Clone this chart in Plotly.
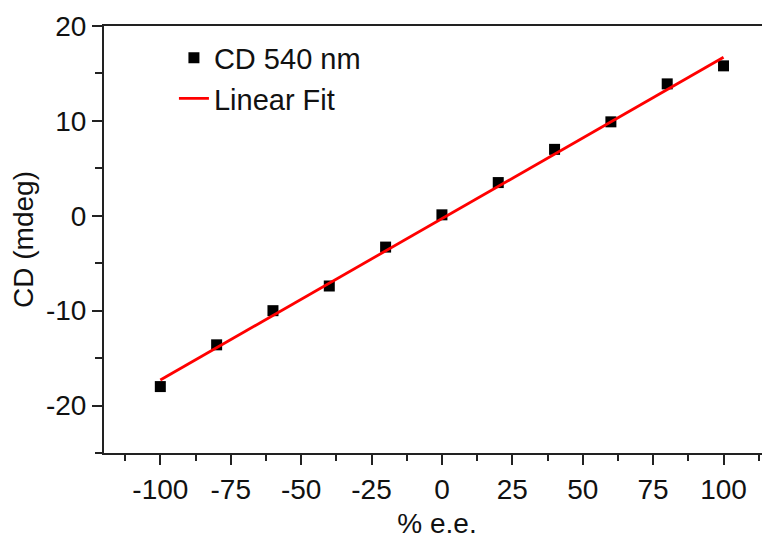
import plotly.graph_objects as go

# Data
ee_percent = [-100, -80, -60, -40, -20, 0, 20, 40, 60, 80, 100]
cd_540 = [-18.0, -13.6, -10.0, -7.4, -3.3, 0.1, 3.5, 7.0, 9.9, 13.9, 15.8]
fit_x = [-100, 100]
fit_y = [-17.3, 16.7]

x_ticks = [-100, -75, -50, -25, 0, 25, 50, 75, 100]
x_tick_labels = ["-100", "-75", "-50", "-25", "0", "25", "50", "75", "100"]
y_ticks = [-20, -10, 0, 10, 20]
y_tick_labels = ["-20", "-10", "0", "10", "20"]

FONT = "Liberation Sans, Arial, sans-serif"

fig = go.Figure()
fig.add_trace(go.Scatter(
    x=ee_percent, y=cd_540, mode="markers", name="CD 540 nm",
    marker=dict(symbol="square", size=11, color="black"),
))
fig.add_trace(go.Scatter(
    x=fit_x, y=fit_y, mode="lines", name="Linear Fit",
    line=dict(color="#ff0000", width=2.8),
))

axis_common = dict(
    showline=True, linecolor="#222222", linewidth=2,
    ticks="outside", ticklen=10, tickwidth=2, tickcolor="#222222",
    showgrid=False, zeroline=False, automargin=False,
    tickfont=dict(family=FONT, size=28, color="#111111"),
    title_font=dict(family=FONT, size=28, color="#111111"),
)

fig.update_xaxes(
    **axis_common,
    range=[-120, 116.5], tickvals=x_ticks, ticktext=x_tick_labels,
    mirror=True,
    minor=dict(dtick=12.5, tick0=0, ticklen=6, tickwidth=2, tickcolor="#222222", ticks="outside", showgrid=False),
    title_text="% e.e.", title_standoff=12,
)
fig.update_yaxes(
    **axis_common,
    range=[-25, 20], tickvals=y_ticks, ticktext=y_tick_labels,
    mirror=False,
    minor=dict(dtick=5, tick0=0, ticklen=7, tickwidth=2, tickcolor="#222222", ticks="outside", showgrid=False),
    title_text="CD (mdeg)", title_standoff=8,
)

fig.update_layout(
    width=762, height=531,
    margin=dict(l=96, r=0, t=18, b=86),
    paper_bgcolor="white", plot_bgcolor="white",
    font=dict(family=FONT, size=28, color="#111111"),
    legend=dict(
        x=0.105, y=0.985, xanchor="left", yanchor="top",
        bgcolor="rgba(0,0,0,0)", borderwidth=0,
        font=dict(family=FONT, size=29, color="#111111"),
        tracegroupgap=0,
    ),
    showlegend=True,
)

fig.write_html("out.html")
